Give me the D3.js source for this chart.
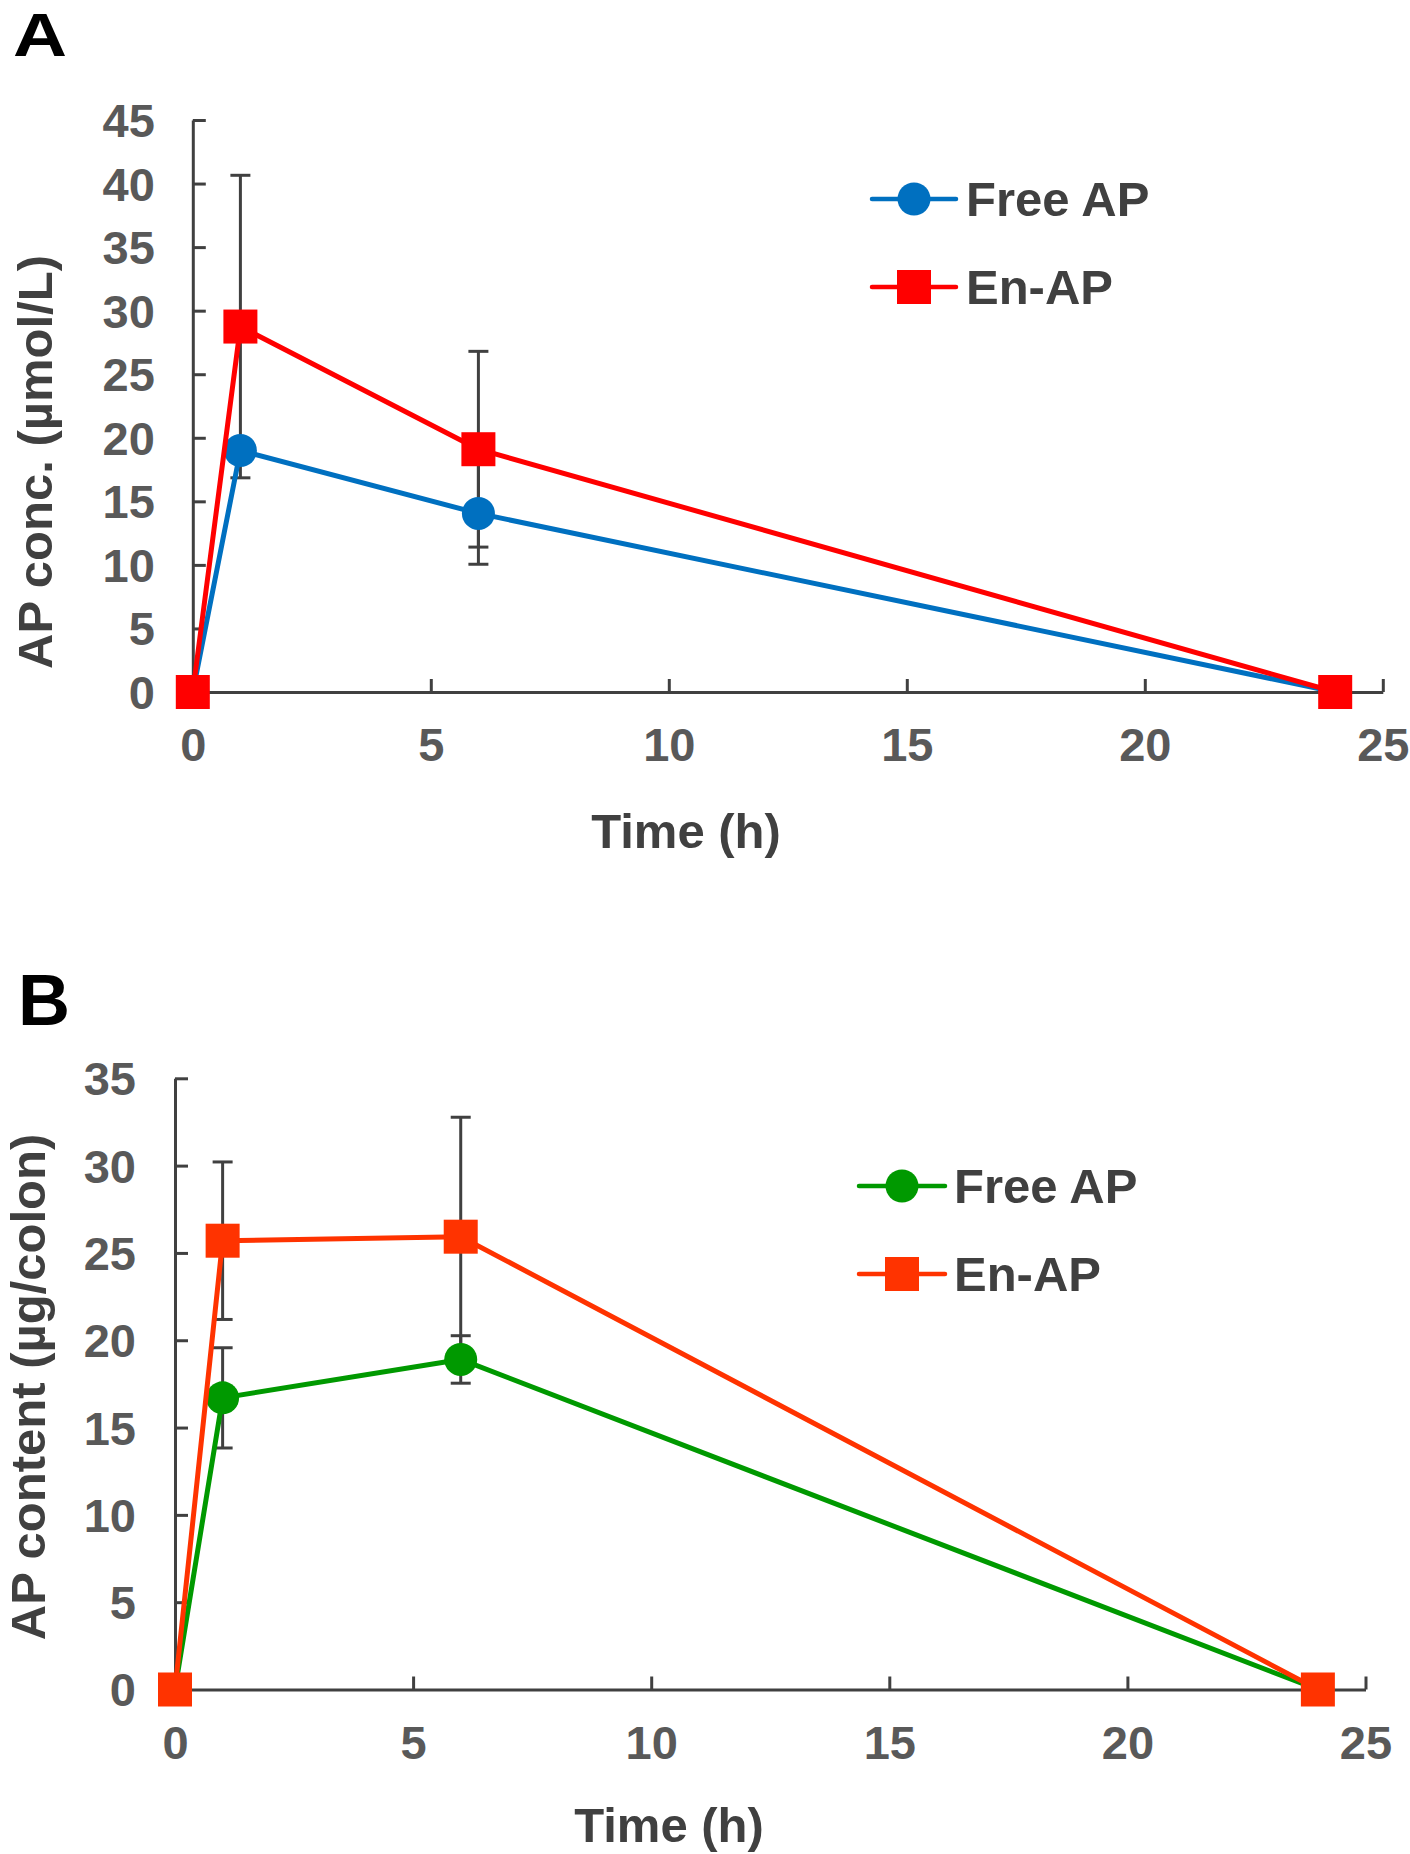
<!DOCTYPE html>
<html>
<head>
<meta charset="utf-8">
<script src="https://cdn.jsdelivr.net/npm/d3@7"></script>
<style>
  html, body { margin: 0; padding: 0; background: #fff; }
  svg { display: block; }
  text { font-family: "Liberation Sans", Arial, sans-serif; font-weight: bold; }
</style>
</head>
<body>
<svg id="chart" width="1410" height="1854"></svg>
<script>
// ---------- data ----------
const times = [0, 1, 6, 24];
const xTicks = [0, 5, 10, 15, 20, 25];

// Panel A: plasma AP concentration (µmol/L)
const freeA = [0, 19.0, 14.05, 0];
const freeA_sd = [0, 0.8, 4.0, 0];
const enA = [0, 28.75, 19.1, 0];
const enA_sd = [0, 11.9, 7.7, 0];
const yTicksA = [0, 5, 10, 15, 20, 25, 30, 35, 40, 45];

// Panel B: colon AP content (µg/colon)
const freeB = [0, 16.7, 18.9, 0];
const freeB_sd = [0, 2.87, 1.36, 0];
const enB = [0, 25.7, 25.93, 0];
const enB_sd = [0, 4.51, 6.84, 0];
const yTicksB = [0, 5, 10, 15, 20, 25, 30, 35];

const seriesNames = ["Free AP", "En-AP"];

// ---------- drawing ----------
const svg = d3.select("#chart");
const AXIS = "#404040", TICKTXT = "#595959";

function panel(cfg) {
  const g = svg.append("g");
  const x = d3.scaleLinear().domain([0, 25]).range([cfg.x0, cfg.x1]);
  const y = d3.scaleLinear().domain([0, cfg.ymax]).range([cfg.y0, cfg.y1]);

  // y axis
  const ya = g.append("g").attr("transform", `translate(${cfg.x0},0)`)
    .call(d3.axisLeft(y).tickValues(cfg.yTicks).tickSizeInner(-13).tickSizeOuter(0).tickPadding(cfg.ypad));
  // x axis
  const xa = g.append("g").attr("transform", `translate(0,${cfg.y0})`)
    .call(d3.axisBottom(x).tickValues(xTicks).tickSizeInner(-13).tickSizeOuter(0).tickPadding(36));
  [ya, xa].forEach(a => {
    a.select(".domain").attr("stroke", AXIS).attr("stroke-width", 3);
    a.selectAll(".tick line").attr("stroke", AXIS).attr("stroke-width", 3);
    a.selectAll(".tick text").attr("fill", TICKTXT)
      .style("font-family", '"Liberation Sans", Arial, sans-serif')
      .style("font-weight", "bold").style("font-size", "47px");
  });
  ya.selectAll(".tick text").attr("dy", "0.35em");

  // error bars (under everything)
  const eb = g.append("g").attr("stroke", AXIS).attr("stroke-width", 3);
  cfg.series.forEach(s => {
    times.forEach((t, i) => {
      if (s.sd[i] <= 0) return;
      const cx = x(t), yt = y(s.vals[i] + s.sd[i]), yb = y(s.vals[i] - s.sd[i]);
      eb.append("line").attr("x1", cx).attr("x2", cx).attr("y1", yt).attr("y2", yb);
      eb.append("line").attr("x1", cx - 10).attr("x2", cx + 10).attr("y1", yt).attr("y2", yt);
      eb.append("line").attr("x1", cx - 10).attr("x2", cx + 10).attr("y1", yb).attr("y2", yb);
    });
  });

  const line = d3.line().x((d, i) => x(times[i])).y(d => y(d));
  cfg.series.forEach(s => {
    g.append("path").datum(s.vals).attr("d", line)
      .attr("fill", "none").attr("stroke", s.color).attr("stroke-width", 5)
      .attr("stroke-linejoin", "round");
    const m = g.append("g");
    s.vals.forEach((v, i) => {
      if (s.shape === "circle") {
        m.append("circle").attr("cx", x(times[i])).attr("cy", y(v)).attr("r", 16.5).attr("fill", s.color);
      } else {
        m.append("rect").attr("x", x(times[i]) - 17).attr("y", y(v) - 17)
          .attr("width", 34).attr("height", 34).attr("fill", s.color);
      }
    });
  });

  // axis titles
  g.append("text").attr("x", cfg.xlabX).attr("y", cfg.xlabY).attr("text-anchor", "middle")
    .attr("fill", AXIS).style("font-size", "49px").text("Time (h)");
  g.append("text").attr("transform", `translate(${cfg.ylabX},${cfg.ylabY}) rotate(-90)`)
    .attr("text-anchor", "middle").attr("fill", AXIS).style("font-size", "49px").text(cfg.ylab);

  // legend
  cfg.series.forEach((s, i) => {
    const ly = cfg.leg.ys[i];
    g.append("line").attr("x1", cfg.leg.x1).attr("x2", cfg.leg.x2).attr("y1", ly).attr("y2", ly)
      .attr("stroke", s.color).attr("stroke-width", 4.5).attr("stroke-linecap", "round");
    const mx = (cfg.leg.x1 + cfg.leg.x2) / 2;
    if (s.shape === "circle") {
      g.append("circle").attr("cx", mx).attr("cy", ly).attr("r", 16.5).attr("fill", s.color);
    } else {
      g.append("rect").attr("x", mx - 17).attr("y", ly - 17).attr("width", 34).attr("height", 34).attr("fill", s.color);
    }
    g.append("text").attr("x", cfg.leg.tx).attr("y", ly + 17).attr("fill", AXIS)
      .style("font-size", "49px").text(seriesNames[i]);
  });

  // panel letter
  const lt = g.append("text").attr("x", cfg.letter.x).attr("y", cfg.letter.y).attr("fill", "#000")
    .style("font-size", cfg.letter.size + "px").text(cfg.letter.t);
  if (cfg.letter.len) lt.attr("textLength", cfg.letter.len).attr("lengthAdjust", "spacingAndGlyphs");
}

panel({
  x0: 192.8, x1: 1382.8, y0: 692, y1: 120, ymax: 45, yTicks: yTicksA, ypad: 38,
  series: [
    { vals: freeA, sd: freeA_sd, color: "#0070C0", shape: "circle" },
    { vals: enA, sd: enA_sd, color: "#FF0000", shape: "square" }
  ],
  xlabX: 686, xlabY: 848, ylabX: 52, ylabY: 462, ylab: "AP conc. (µmol/L)",
  leg: { x1: 872, x2: 956, ys: [199, 287], tx: 966 },
  letter: { t: "A", x: 13, y: 56, size: 62, len: 54 }
});

panel({
  x0: 175, x1: 1365.5, y0: 1689.5, y1: 1078.3, ymax: 35, yTicks: yTicksB, ypad: 39,
  series: [
    { vals: freeB, sd: freeB_sd, color: "#009900", shape: "circle" },
    { vals: enB, sd: enB_sd, color: "#FF3300", shape: "square" }
  ],
  xlabX: 669, xlabY: 1842, ylabX: 45, ylabY: 1387, ylab: "AP content (µg/colon)",
  leg: { x1: 859, x2: 945, ys: [1186, 1274], tx: 954 },
  letter: { t: "B", x: 18, y: 1025, size: 72 }
});
</script>
</body>
</html>
